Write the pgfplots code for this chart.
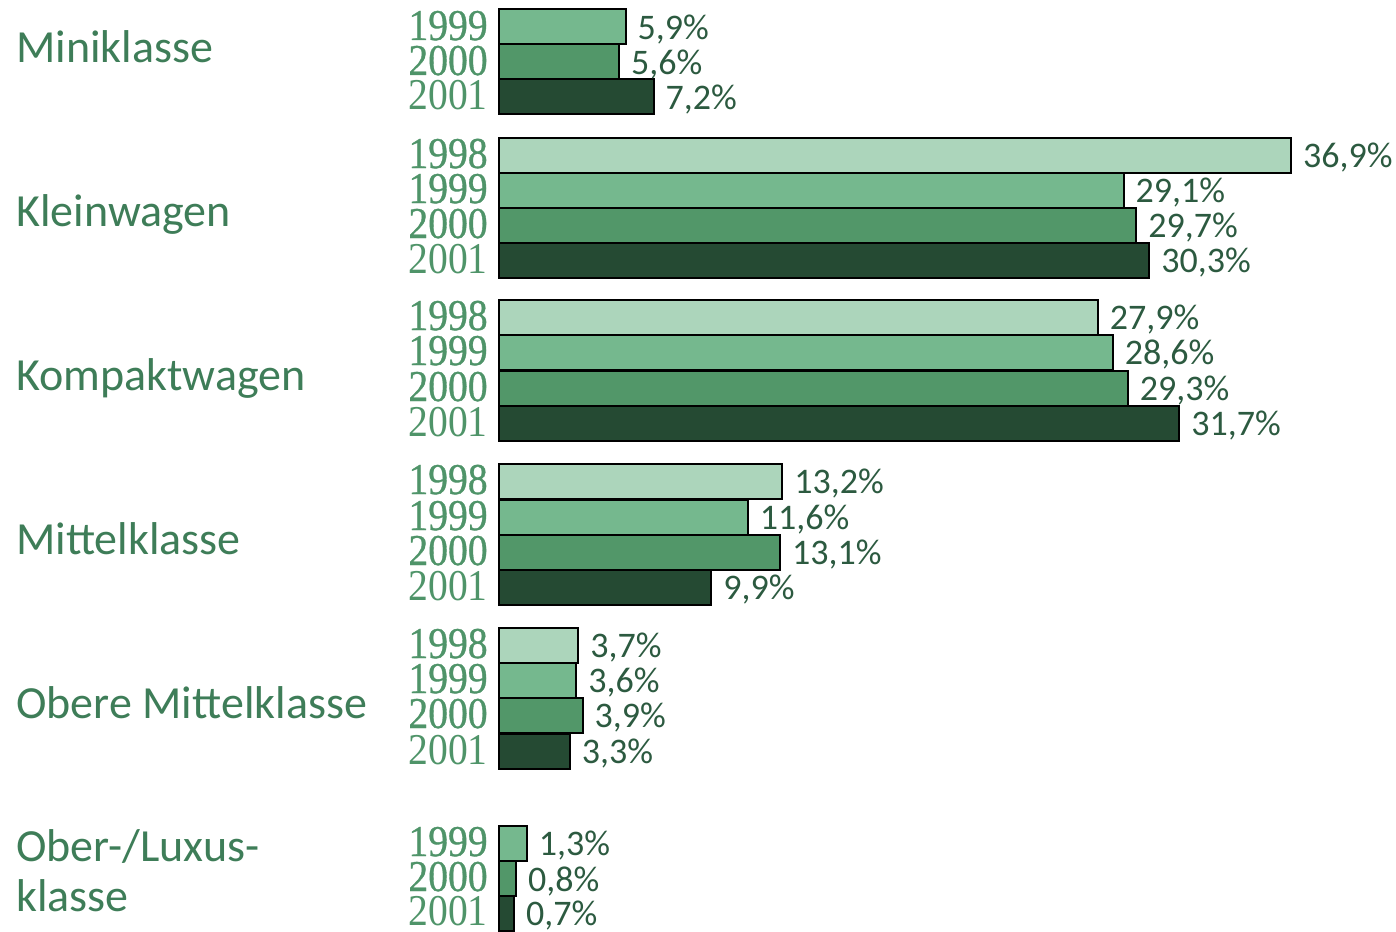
\documentclass[border=0pt]{standalone}
\usepackage{fontspec}
\usepackage{pgfplots}
\pgfplotsset{compat=1.18}
\newfontfamily\catfont{Carlito}
\newfontfamily\yrfont{Liberation Serif}
\newfontfamily\yrfontb[FakeBold=0.8]{Liberation Serif}
\definecolor{c98}{HTML}{ACD5BB}
\definecolor{c99}{HTML}{75B88E}
\definecolor{c00}{HTML}{529769}
\definecolor{c01}{HTML}{254A33}
\definecolor{catcol}{HTML}{3E7D58}
\definecolor{yrcol}{HTML}{4F9469}
\definecolor{valcol}{HTML}{2C5A40}
\newcommand\yrb[1]{\scalebox{0.9}[1]{\yrfontb\fontsize{22}{24}\selectfont #1}}
\newcommand\yrr[1]{\scalebox{0.9}[1]{\yrfont\fontsize{22}{24}\selectfont #1}}
\newcommand\YL[2]{\node[anchor=base east, text=yrcol, inner sep=0pt] at (axis cs:-0.51,#1) {\yrb{#2}};}
\newcommand\YR[2]{\node[anchor=base east, text=yrcol, inner sep=0pt] at (axis cs:-0.51,#1) {\yrr{#2}};}
\begin{document}
\begin{tikzpicture}
\begin{axis}[
 scale only axis, width=698pt, height=465.5pt,
 xmin=-23.249, xmax=41.793, ymin=0, ymax=931, y dir=reverse,
 hide axis, clip=false,
 xbar, bar width=35,
 point meta=x,
 nodes near coords={\pgfmathprintnumber[fixed,fixed zerofill,precision=1,use comma,assume math mode=true]{\pgfplotspointmeta}\%},
 every node near coord/.append style={font=\catfont\fontsize{18}{20}\selectfont, text=valcol, anchor=west, inner sep=0pt, xshift=5.5pt, yshift=-1.5pt},
]
\addplot[fill=c98, draw=black, line width=1pt, bar shift=0pt] coordinates {(36.9,155) (27.9,317) (13.2,481) (3.7,645)};
\addplot[fill=c99, draw=black, line width=1pt, bar shift=0pt] coordinates {(5.9,27) (29.1,190) (28.6,352) (11.6,517) (3.6,680) (1.3,843)};
\addplot[fill=c00, draw=black, line width=1pt, bar shift=0pt] coordinates {(5.6,62) (29.7,225) (29.3,388) (13.1,552) (3.9,715) (0.8,878)};
\addplot[fill=c01, draw=black, line width=1pt, bar shift=0pt] coordinates {(7.2,97) (30.3,260) (31.7,423) (9.9,587) (3.3,751) (0.7,913)};

% year labels
\YL{40}{1999}\YL{75}{2000}\YR{110}{2001}
\YL{168}{1998}\YL{203}{1999}\YL{238}{2000}\YR{273}{2001}
\YL{330}{1998}\YL{365}{1999}\YL{401}{2000}\YR{436}{2001}
\YL{494}{1998}\YL{530}{1999}\YL{565}{2000}\YR{600}{2001}
\YL{658}{1998}\YL{693}{1999}\YL{728}{2000}\YR{764}{2001}
\YL{856}{1999}\YL{891}{2000}\YR{925}{2001}

% category labels
\begin{scope}[every node/.style={anchor=base west, text=catcol, inner sep=0pt, font=\catfont\fontsize{23}{25}\selectfont}]
\node at (axis cs:-22.504,63) {Miniklasse};
\node at (axis cs:-22.504,226) {Kleinwagen};
\node at (axis cs:-22.504,390) {Kompaktwagen};
\node at (axis cs:-22.504,554) {Mittelklasse};
\node at (axis cs:-22.504,718) {Obere Mittelklasse};
\node at (axis cs:-22.504,861) {Ober-/Luxus-};
\node at (axis cs:-22.504,911) {klasse};
\end{scope}
\coordinate (bl) at (rel axis cs:0,0);
\coordinate (tr) at (rel axis cs:1,1);
\end{axis}
\pgfresetboundingbox
\path (bl) rectangle (tr);
\end{tikzpicture}
\end{document}
